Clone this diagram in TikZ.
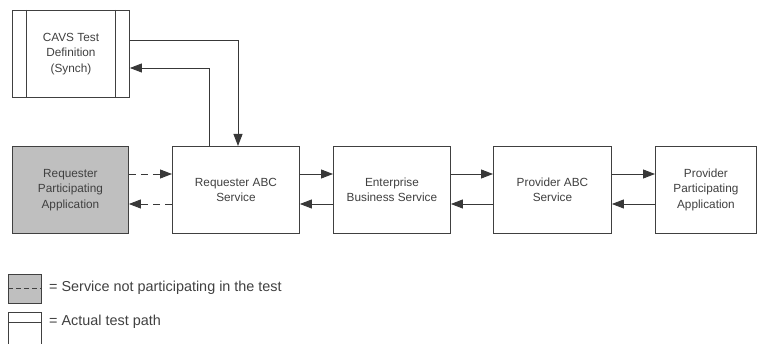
\documentclass[tikz,border=0pt]{standalone}
\usepackage{fontspec}
\setmainfont{Liberation Sans}
\usetikzlibrary{arrows.meta}
\begin{document}
\begin{tikzpicture}[x=1pt,y=-1pt,
  every node/.style={font=\fontsize{11.8}{15.5}\selectfont, text=black!75},
  box/.style={draw=black!75, line width=0.9pt, fill=white, align=center, anchor=north west, inner sep=0pt},
  arr/.style={draw=black!78, line width=0.9pt, -{Triangle[length=12pt,width=9pt]}},
  darr/.style={arr, dashed, dash pattern=on 7pt off 5pt}]
\useasboundingbox (0,0) rectangle (758,344);
\clip (0,0) rectangle (758,344);
% boxes
\node[box, minimum width=117pt, minimum height=87pt] (cavs) at (12,10) {CAVS Test\\Definition\\(Synch)};
\draw[draw=black!75, line width=0.9pt] ([xshift=14pt]cavs.north west) -- ([xshift=14pt]cavs.south west)
  ([xshift=-14pt]cavs.north east) -- ([xshift=-14pt]cavs.south east);
\node[box, fill=black!25, minimum width=116pt, minimum height=87pt] (rpa) at (12,146) {Requester\\Participating\\Application};
\node[box, minimum width=127pt, minimum height=87pt] (rabc) at (172,146) {Requester ABC\\Service};
\node[box, minimum width=117pt, minimum height=87pt] (ebs) at (333,146) {Enterprise\\Business Service};
\node[box, minimum width=118pt, minimum height=87pt] (pabc) at (493,146) {Provider ABC\\Service};
\node[box, minimum width=101pt, minimum height=87pt] (ppa) at (655,146) {Provider\\Participating\\Application};
% CAVS connectors
\coordinate (c1) at (238,40);
\coordinate (c2) at (209,68);
\draw[arr] (cavs.east |- c1) -- (c1) -- (c1 |- rabc.north);
\draw[arr] (c2 |- rabc.north) -- (c2) -- (cavs.east |- c2);
% horizontal arrows
\coordinate (up) at (0,174);
\coordinate (lo) at (0,204);
\draw[darr] (rpa.east |- up) -- (rabc.west |- up);
\draw[darr] (rabc.west |- lo) -- (rpa.east |- lo);
\draw[arr] (rabc.east |- up) -- (ebs.west |- up);
\draw[arr] (ebs.west |- lo) -- (rabc.east |- lo);
\draw[arr] (ebs.east |- up) -- (pabc.west |- up);
\draw[arr] (pabc.west |- lo) -- (ebs.east |- lo);
\draw[arr] (pabc.east |- up) -- (ppa.west |- up);
\draw[arr] (ppa.west |- lo) -- (pabc.east |- lo);
% legend
\node[box, fill=black!25, minimum width=33pt, minimum height=29pt] (lg1) at (8,274) {};
\draw[draw=black!75, line width=0.9pt, dashed, dash pattern=on 5pt off 3pt] (lg1.west) -- (lg1.east);
\node[anchor=west, inner sep=0pt, font=\fontsize{14.4}{17}\selectfont] (lt1) at (49,288) {= Service not participating in the test};
\node[box, minimum width=33pt, minimum height=40pt] (lg2) at (8,312) {};
\coordinate (l2) at (0,322);
\draw[draw=black!75, line width=0.9pt] (lg2.west |- l2) -- (lg2.east |- l2);
\node[anchor=west, inner sep=0pt, font=\fontsize{14.4}{17}\selectfont] (lt2) at (49,322) {= Actual test path};
\end{tikzpicture}
\end{document}
